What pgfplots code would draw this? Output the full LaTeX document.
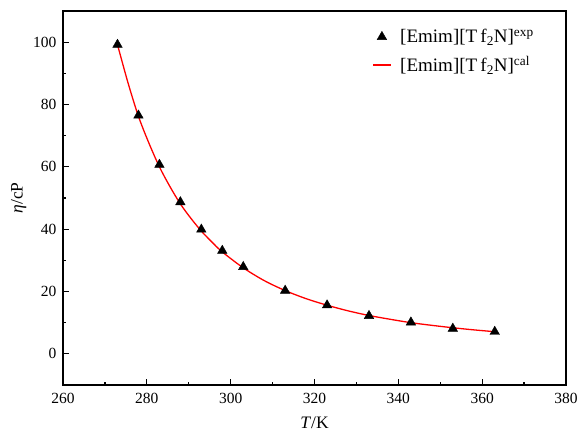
\documentclass[border=0pt]{standalone}
\usepackage{fontspec}
\setmainfont{Liberation Serif}
\usepackage{pgfplots}
\pgfplotsset{compat=1.18}
\begin{document}
\begin{tikzpicture}
\begin{axis}[name=ax, scale only axis, width=503pt, height=374pt,
  xmin=260, xmax=380, ymin=-10, ymax=110,
  xtick={260,280,...,380}, ytick={0,20,...,100},
  minor x tick num=1, minor y tick num=1,
  tick align=inside, xtick pos=bottom, ytick pos=left,
  major tick length=6.5pt, minor tick length=3.5pt,
  axis line style={line width=1.2pt},
  every tick/.style={line width=1.2pt, black},
  /pgf/number format/assume math mode=true,
  /pgf/number format/1000 sep={},
  tick label style={font=\fontsize{15.5}{15.5}\selectfont},
  xticklabel shift=5pt, yticklabel shift=3pt,
  xlabel={\textit{T}/K}, ylabel={\textit{η}/cP},
  xlabel shift=6pt,
  label style={font=\fontsize{17.5}{17.5}\selectfont},
  legend style={draw=none, fill=none, at={(0.609,0.962)}, anchor=north west,
    font=\fontsize{19}{19}\selectfont, row sep=8pt},
  legend cell align=left,
]
\addplot[only marks, mark=triangle*, mark size=5.5pt, black] coordinates {
(273,99.2) (278,76.5) (283,60.7) (288,48.7) (293,39.9) (298,33.1) (303,27.9)
(313,20.3) (323,15.6) (333,12.2) (343,10.1) (353,8.1) (363,7.1)};
\addlegendentry{\hspace{6pt}[Emim][T\,f\textsubscript{2}N]\textsuperscript{exp}}
\addplot[red, line width=1.3pt, smooth,
  legend image code/.code={\draw[color=red, line width=1.7pt] (0pt,0pt) -- (18pt,0pt);}] coordinates {
(273,99.2) (275.5,87.0) (278,76.2) (280.5,67.6) (283,60.0) (285.5,53.7) (288,48.1) (290.5,43.5)
(293,39.4) (295.5,35.9) (298,32.7) (303,27.6) (308,23.5) (313,20.3) (318,17.7)
(323,15.6) (328,13.8) (333,12.3) (338,11.1) (343,10.0) (348,9.14) (353,8.37)
(358,7.69) (363,7.10)};
\addlegendentry{\hspace{6pt}[Emim][T\,f\textsubscript{2}N]\textsuperscript{cal}}
\end{axis}
\pgfresetboundingbox
\path ([xshift=-63pt,yshift=-54pt]ax.south west) rectangle ([xshift=11pt,yshift=11pt]ax.north east);
\end{tikzpicture}
\end{document}
